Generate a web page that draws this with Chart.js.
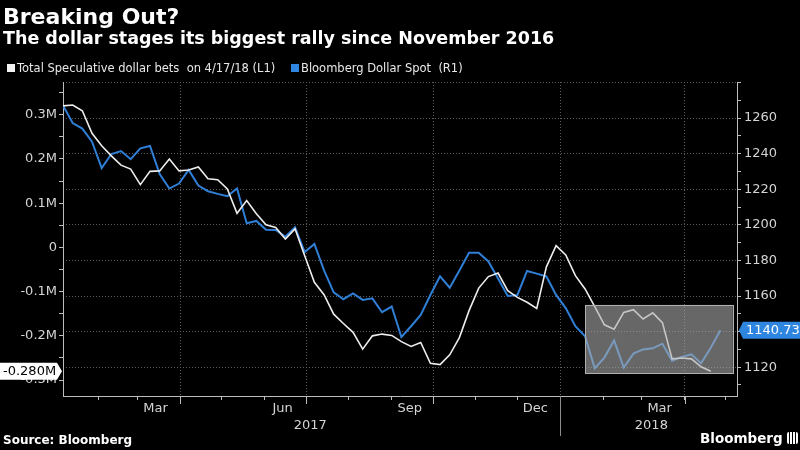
<!DOCTYPE html>
<html>
<head>
<meta charset="utf-8">
<script src="https://cdn.jsdelivr.net/npm/chart.js@4.4.1/dist/chart.umd.min.js"></script>
<style>
  html, body { margin: 0; padding: 0; background: #000; }
  #wrap { position: relative; width: 800px; height: 450px; background: #000; overflow: hidden;
          font-family: "DejaVu Sans", sans-serif; color: #fff; }
  #wrap canvas { position: absolute; left: 0; top: 0; }
  .txt { position: absolute; white-space: nowrap; line-height: 1; }
  #title { left: 3px; top: 6px; font-size: 22px; font-weight: bold; }
  #subtitle { left: 3px; top: 30px; font-size: 17.5px; font-weight: bold; }
  .leg { top: 63px; font-size: 11.5px; color: #e8e8e8; }
  .sw { display: inline-block; width: 8px; height: 8px; margin-right: 2px; }
  #source { left: 3px; top: 434px; font-size: 12px; font-weight: bold; }
  #logo { left: 700px; top: 432px; font-size: 13.5px; font-weight: bold; }
  #logo i { display: inline-block; width: 11px; height: 12px; margin-left: 4px; background: #fff;
            border-radius: 2px; vertical-align: -1px;
            background-image: linear-gradient(90deg, #fff 2px, #000 2px, #000 3px, #fff 3px, #fff 5px, #000 5px, #000 6px, #fff 6px, #fff 8px, #000 8px, #000 9px, #fff 9px); }
</style>
</head>
<body>
<div id="wrap">
  <canvas id="mainChart" width="800" height="450"></canvas>
  <div class="txt" id="title">Breaking Out?</div>
  <div class="txt" id="subtitle">The dollar stages its biggest rally since November 2016</div>
  <div class="txt leg" style="left:7px"><span class="sw" style="background:#f2f2f2"></span>Total Speculative dollar bets&nbsp; on 4/17/18 (L1)</div>
  <div class="txt leg" style="left:291px"><span class="sw" style="background:#2f86e0"></span>Bloomberg Dollar Spot&nbsp; (R1)</div>
  <div class="txt" id="source">Source: Bloomberg</div>
  <div class="txt" id="logo">Bloomberg<i></i></div>
</div>
<script>
// semanas (sexta-feira) de 06/jan/2017 a 27/abr/2018
const firstWeek = '2017-01-06';
const weekDates = [];
for (let i = 0; i < 69; i++) {
  weekDates.push(new Date(Date.parse(firstWeek) + i * 7 * 864e5).toISOString().slice(0, 10));
}

// Total speculative dollar bets, milhares (L1)
const specBets = [320, 322, 309, 258, 230, 207, 186, 177, 142, 172, 173, 200, 173, 175, 182, 155, 153, 132,
  77, 106, 76, 51, 45, 19, 42, -19, -79, -107, -151, -172, -192, -230, -200, -196, -199, -213, -224, -215,
  -262, -265, -243, -204, -143, -92, -66, -58, -98, -113, -124, -138, -44, 4, -17, -64, -94, -134, -175,
  -185, -147, -141, -162, -148, -170, -252, -250, -252, -270, -280];

// Bloomberg Dollar Spot (R1)
const dollarSpot = [1267.1, 1257.2, 1254.1, 1246.7, 1231.9, 1239.8, 1241.5, 1236.9, 1243.0, 1244.3, 1228.6,
  1220.4, 1223.2, 1230.9, 1222.1, 1218.9, 1217.4, 1216.1, 1220.4, 1200.9, 1202.2, 1197.2, 1197.1, 1193.3,
  1198.6, 1184.7, 1189.3, 1174.4, 1162.1, 1158.2, 1161.5, 1157.8, 1158.7, 1150.9, 1154.1, 1136.9, 1143.0,
  1149.4, 1160.6, 1171.1, 1164.7, 1174.4, 1184.3, 1184.3, 1179.4, 1169.8, 1160.0, 1160.6, 1174.1, 1172.6,
  1171.0, 1160.6, 1153.2, 1143.0, 1137.4, 1119.4, 1125.4, 1135.0, 1119.8, 1127.6, 1130.0, 1130.6, 1133.2,
  1123.6, 1125.8, 1127.2, 1122.2, 1130.9, 1140.73];

// eixo x
const monthLabels = ['Mar', 'Jun', 'Sep', 'Dec', 'Mar'];
const monthLabelDates = ['2017-03-14', '2017-06-14', '2017-09-14', '2017-12-14', '2018-03-14'];
const yearLabels = ['2017', '2018'];
const yearLabelDates = ['2017-07-04', '2018-03-08'];
const xStart = '2017-01-06';
const xEnd = '2018-05-09';

// eixos y
const leftTicks = [-300, -250, -200, -150, -100, -50, 0, 50, 100, 150, 200, 250, 300, 350];
const rightTicks = [1110, 1120, 1130, 1140, 1150, 1160, 1170, 1180, 1190, 1200, 1210, 1220, 1230, 1240, 1250, 1260, 1270, 1280];

// caixa cinza em destaque (unidades do eixo R1)
const boxFrom = '2018-01-19', boxTo = '2018-05-06', boxTop = 1155, boxBottom = 1116.5;

const dayOf = s => (Date.parse(s) - Date.parse('2017-01-01')) / 864e5;

// inicio de cada mes e de cada trimestre
const monthStarts = [];
const quarterStarts = [];
for (let m = 1; m < 17; m++) {
  const d = dayOf(new Date(Date.UTC(2017, m, 1)).toISOString().slice(0, 10));
  monthStarts.push(d);
  if (m % 3 === 0) quarterStarts.push(d);
}

const axisColor = '#bdbdbd';
const labelColor = '#d4d4d4';

const overlays = {
  id: 'overlays',
  afterDatasetsDraw(chart) {
    const { ctx, scales: { x, y1 } } = chart;
    const l = x.getPixelForValue(dayOf(boxFrom)), r = x.getPixelForValue(dayOf(boxTo));
    const t = y1.getPixelForValue(boxTop), b = y1.getPixelForValue(boxBottom);
    ctx.save();
    ctx.fillStyle = 'rgba(172,172,172,0.6)';
    ctx.fillRect(l, t, r - l, b - t);
    ctx.strokeStyle = '#b0b0b0';
    ctx.lineWidth = 1;
    ctx.strokeRect(Math.round(l) + 0.5, Math.round(t) + 0.5, Math.round(r - l), Math.round(b - t));
    ctx.restore();
  },
  afterDraw(chart) {
    const { ctx, chartArea, scales: { x, y, y1 } } = chart;
    ctx.save();
    // ticks maiores nos trimestres
    ctx.strokeStyle = axisColor;
    ctx.lineWidth = 1;
    ctx.beginPath();
    quarterStarts.forEach(d => {
      const px = Math.round(x.getPixelForValue(d)) + 0.5;
      ctx.moveTo(px, chartArea.bottom);
      ctx.lineTo(px, chartArea.bottom + 8);
    });
    ctx.stroke();
    // divisao de ano
    const yx = Math.round(x.getPixelForValue(dayOf('2018-01-01'))) + 0.5;
    ctx.strokeStyle = '#8c8c8c';
    ctx.beginPath();
    ctx.moveTo(yx, chartArea.bottom);
    ctx.lineTo(yx, chartArea.bottom + 40);
    ctx.stroke();

    ctx.font = '13px "DejaVu Sans"';
    ctx.textBaseline = 'middle';
    // etiqueta do ultimo valor (L1)
    const lastBets = specBets[specBets.length - 1];
    let yc = y.getPixelForValue(lastBets);
    let e = chartArea.left - 1;
    ctx.fillStyle = '#fff';
    ctx.beginPath();
    ctx.moveTo(0, yc - 8.5);
    ctx.lineTo(e - 5, yc - 8.5);
    ctx.lineTo(e, yc);
    ctx.lineTo(e - 5, yc + 8.5);
    ctx.lineTo(0, yc + 8.5);
    ctx.closePath();
    ctx.fill();
    ctx.fillStyle = '#000';
    ctx.fillText((lastBets / 1000).toFixed(3) + 'M', 3, yc + 0.5);
    // etiqueta do ultimo valor (R1)
    const lastSpot = dollarSpot[dollarSpot.length - 1];
    yc = y1.getPixelForValue(lastSpot);
    e = chartArea.right + 2;
    ctx.fillStyle = '#2f86e0';
    ctx.beginPath();
    ctx.moveTo(e, yc);
    ctx.lineTo(e + 4, yc - 8.5);
    ctx.lineTo(800, yc - 8.5);
    ctx.lineTo(800, yc + 8.5);
    ctx.lineTo(e + 4, yc + 8.5);
    ctx.closePath();
    ctx.fill();
    ctx.fillStyle = '#fff';
    ctx.fillText(lastSpot.toFixed(2), e + 7, yc + 0.5);
    ctx.restore();
  }
};

Chart.defaults.font.family = '"DejaVu Sans", sans-serif';

const config = {
  type: 'line',
  data: {
    datasets: [{
      label: 'Total Speculative dollar bets on 4/17/18 (L1)',
      data: specBets.map((v, i) => ({ x: dayOf(weekDates[i]), y: v })),
      xAxisID: 'x', yAxisID: 'y',
      borderColor: '#ededed', borderWidth: 1.6, pointRadius: 0, tension: 0
    }, {
      label: 'Bloomberg Dollar Spot (R1)',
      data: dollarSpot.map((v, i) => ({ x: dayOf(weekDates[i]), y: v })),
      xAxisID: 'x', yAxisID: 'y1',
      borderColor: '#2f7fd6', borderWidth: 2, pointRadius: 0, tension: 0
    }]
  },
  options: {
    responsive: false,
    animation: false,
    devicePixelRatio: 1,
    layout: { padding: { top: 82, bottom: 10, left: 0, right: 0 } },
    plugins: { legend: { display: false }, tooltip: { enabled: false } },
    scales: {
      x: {
        type: 'linear', position: 'bottom', min: dayOf(xStart), max: dayOf(xEnd),
        afterBuildTicks: s => { s.ticks = monthStarts.map(v => ({ value: v })); },
        ticks: { display: false, autoSkip: false },
        grid: {
          color: c => (c.tick && quarterStarts.includes(c.tick.value)) ? '#5c5c5c' : 'transparent',
          tickColor: axisColor, tickLength: 4
        },
        border: { color: axisColor, dash: [1, 2] },
        afterFit: s => { s.height = 5; }
      },
      xMonth: {
        type: 'linear', position: 'bottom', min: dayOf(xStart), max: dayOf(xEnd),
        afterBuildTicks: s => { s.ticks = monthLabelDates.map(d => ({ value: dayOf(d) })); },
        ticks: { autoSkip: false, maxRotation: 0, color: labelColor, font: { size: 13 }, padding: 0,
                 callback: (v, i) => monthLabels[i] },
        grid: { display: false, drawTicks: false },
        border: { display: false },
        afterFit: s => { s.height = 17; }
      },
      xYear: {
        type: 'linear', position: 'bottom', min: dayOf(xStart), max: dayOf(xEnd),
        afterBuildTicks: s => { s.ticks = yearLabelDates.map(d => ({ value: dayOf(d) })); },
        ticks: { autoSkip: false, maxRotation: 0, color: labelColor, font: { size: 13 }, padding: 0,
                 callback: (v, i) => yearLabels[i] },
        grid: { display: false, drawTicks: false },
        border: { display: false },
        afterFit: s => { s.height = 22; }
      },
      y: {
        position: 'left', min: -336, max: 374,
        afterBuildTicks: s => { s.ticks = leftTicks.map(v => ({ value: v })); },
        ticks: { autoSkip: false, color: labelColor, font: { size: 13 }, padding: 2,
                 callback: v => v % 100 === 0 ? (v === 0 ? '0' : (v / 1000).toFixed(1) + 'M') : '' },
        grid: { drawOnChartArea: false, tickColor: axisColor, tickLength: 4 },
        border: { color: axisColor },
        afterFit: s => { s.width = 63; }
      },
      y1: {
        position: 'right', min: 1103.8, max: 1280.3,
        afterBuildTicks: s => { s.ticks = rightTicks.map(v => ({ value: v })); },
        ticks: { autoSkip: false, color: labelColor, font: { size: 13 }, padding: 3,
                 callback: v => (v % 20 === 0 && v < 1280) ? String(v) : '' },
        grid: {
          color: c => (c.tick && c.tick.value % 20 === 0) ? '#5c5c5c' : 'transparent',
          tickColor: axisColor, tickLength: 4
        },
        border: { color: axisColor, dash: [1, 2] },
        afterFit: s => { s.width = 63; }
      }
    }
  },
  plugins: [overlays]
};

new Chart(document.getElementById('mainChart'), config);
</script>
</body>
</html>
